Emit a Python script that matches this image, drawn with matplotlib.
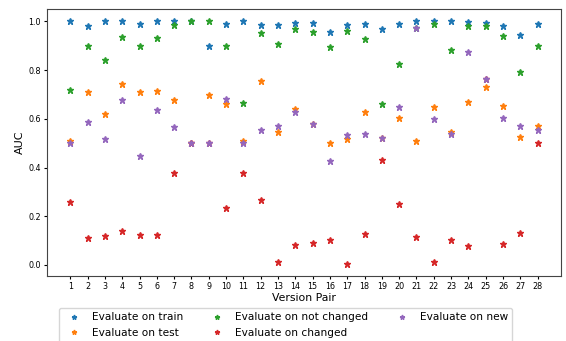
import numpy as np
import matplotlib
matplotlib.use("Agg")
import matplotlib.pyplot as plt

pairs = list(range(1, 29))
train = [1.0, 0.98, 1.0, 1.0, 0.99, 1.0, 1.0, 1.0, 0.90, 0.99,
         1.0, 0.984, 0.985, 0.993, 0.993, 0.958, 0.985, 0.99, 0.967, 0.99,
         1.0, 1.0, 1.0, 0.997, 0.993, 0.98, 0.945, 0.99]
test = [0.51, 0.709, 0.62, 0.742, 0.709, 0.716, 0.679, 0.50, 0.698, 0.659,
        0.51, 0.754, 0.546, 0.639, 0.579, 0.501, 0.519, 0.626, 0.523, 0.604,
        0.51, 0.648, 0.546, 0.668, 0.731, 0.654, 0.527, 0.572]
not_changed = [0.72, 0.90, 0.84, 0.936, 0.90, 0.93, 0.984, 1.0, 1.0, 0.90,
               0.665, 0.952, 0.907, 0.967, 0.955, 0.895, 0.962, 0.927, 0.661, 0.824,
               0.973, 0.99, 0.881, 0.98, 0.98, 0.939, 0.79, 0.90]
changed = [0.257, 0.112, 0.118, 0.138, 0.123, 0.123, 0.376, 0.50, 0.50, 0.232,
           0.376, 0.268, 0.011, 0.083, 0.09, 0.102, 0.005, 0.126, 0.429, 0.251,
           0.116, 0.014, 0.104, 0.078, 0.765, 0.087, 0.13, 0.50]
new = [0.499, 0.585, 0.515, 0.679, 0.448, 0.634, 0.568, 0.50, 0.50, 0.682,
       0.499, 0.553, 0.571, 0.626, 0.579, 0.425, 0.534, 0.537, 0.523, 0.65,
       0.973, 0.598, 0.537, 0.876, 0.765, 0.604, 0.571, 0.556]

series = [("Evaluate on train", train, "#1f77b4"),
          ("Evaluate on test", test, "#ff7f0e"),
          ("Evaluate on not changed", not_changed, "#2ca02c"),
          ("Evaluate on changed", changed, "#d62728"),
          ("Evaluate on new", new, "#9467bd")]

fig = plt.figure(figsize=(5.66, 3.41), dpi=100)
ax = fig.add_axes([0.083, 0.191, 0.908, 0.782])
for label, vals, color in series:
    ax.plot(pairs, vals, linestyle="none", marker="*", markersize=5,
            color=color, label=label)

ax.set_xticks(pairs)
ax.tick_params(axis="both", labelsize=5.8, length=2.5, pad=2)
ax.set_xlabel("Version Pair", fontsize=7.8, labelpad=1)
ax.set_ylabel("AUC", fontsize=8, labelpad=2)
for s in ax.spines.values():
    s.set_color("#444444")
ax.legend(loc="upper center", bbox_to_anchor=(0.464, -0.1205), ncol=3,
          fontsize=7.6, markerscale=0.7, handletextpad=0.71, columnspacing=2.2,
          labelspacing=0.51, borderpad=0.4, handlelength=2.0, borderaxespad=0)
fig.savefig("out.png", dpi=100)
